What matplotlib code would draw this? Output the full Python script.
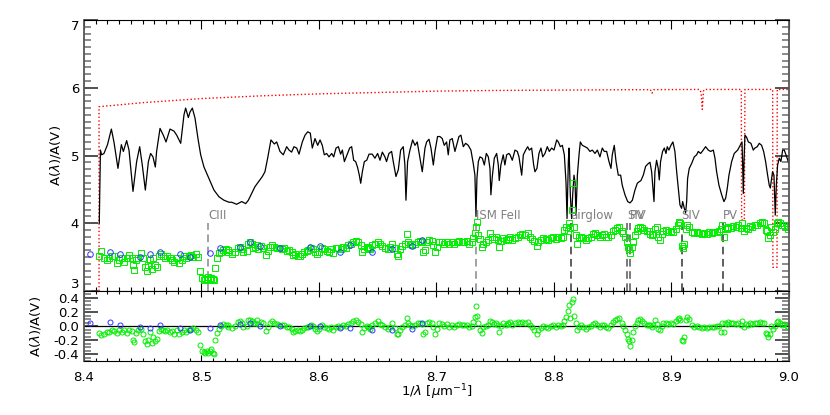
import matplotlib
matplotlib.use("Agg")
import matplotlib.pyplot as plt
from matplotlib.ticker import MultipleLocator, FormatStrFormatter

# observed extinction curve (black)
spec_x = [8.4130, 8.4140, 8.4150, 8.4170, 8.4200, 8.4233, 8.4255, 8.4289, 8.4318,
          8.4335, 8.4363, 8.4383, 8.4417, 8.4448, 8.4474, 8.4496, 8.4522, 8.4548, 8.4567,
          8.4587, 8.4607, 8.4618, 8.4647, 8.4675, 8.4698, 8.4732, 8.4766, 8.4789, 8.4823,
          8.4851, 8.4865, 8.4888, 8.4902, 8.4922, 8.4945, 8.4970, 8.4993, 8.5021, 8.5064,
          8.5106, 8.5149, 8.5191, 8.5234, 8.5257, 8.5299, 8.5342, 8.5376, 8.5399, 8.5427,
          8.5455, 8.5484, 8.5518, 8.5540, 8.5563, 8.5591, 8.5620, 8.5640, 8.5668, 8.5696,
          8.5725, 8.5745, 8.5767, 8.5787, 8.5810, 8.5830, 8.5858, 8.5881, 8.5904, 8.5926,
          8.5943, 8.5966, 8.5989, 8.6009, 8.6028, 8.6045, 8.6065, 8.6085, 8.6108, 8.6125,
          8.6145, 8.6165, 8.6184, 8.6199, 8.6216, 8.6238, 8.6261, 8.6278, 8.6295, 8.6312,
          8.6329, 8.6343, 8.6355, 8.6369, 8.6386, 8.6406, 8.6426, 8.6453, 8.6476, 8.6499,
          8.6519, 8.6539, 8.6561, 8.6575, 8.6595, 8.6618, 8.6632, 8.6655, 8.6675, 8.6695,
          8.6717, 8.6731, 8.6740, 8.6754, 8.6774, 8.6797, 8.6817, 8.6836, 8.6859, 8.6879,
          8.6902, 8.6916, 8.6936, 8.6953, 8.6973, 8.6987, 8.7009, 8.7029, 8.7049, 8.7066,
          8.7086, 8.7100, 8.7114, 8.7134, 8.7157, 8.7171, 8.7191, 8.7208, 8.7228, 8.7248,
          8.7270, 8.7293, 8.7313, 8.7327, 8.7336, 8.7344, 8.7356, 8.7370, 8.7390, 8.7407,
          8.7424, 8.7441, 8.7455, 8.7463, 8.7475, 8.7492, 8.7512, 8.7526, 8.7534, 8.7548,
          8.7568, 8.7582, 8.7597, 8.7616, 8.7626, 8.7645, 8.7668, 8.7688, 8.7702, 8.7725,
          8.7739, 8.7759, 8.7776, 8.7790, 8.7810, 8.7827, 8.7838, 8.7855, 8.7872, 8.7889,
          8.7904, 8.7923, 8.7943, 8.7960, 8.7980, 8.8000, 8.8023, 8.8037, 8.8054, 8.8071,
          8.8088, 8.8102, 8.8111, 8.8122, 8.8128, 8.8139, 8.8150, 8.8159, 8.8170, 8.8179,
          8.8187, 8.8199, 8.8213, 8.8224, 8.8241, 8.8264, 8.8284, 8.8306, 8.8326, 8.8349,
          8.8369, 8.8391, 8.8411, 8.8428, 8.8448, 8.8468, 8.8485, 8.8496, 8.8513, 8.8528,
          8.8547, 8.8567, 8.8581, 8.8604, 8.8627, 8.8647, 8.8667, 8.8689, 8.8709, 8.8723,
          8.8740, 8.8760, 8.8780, 8.8802, 8.8817, 8.8831, 8.8851, 8.8859, 8.8873, 8.8887,
          8.8896, 8.8907, 8.8924, 8.8939, 8.8953, 8.8964, 8.8978, 8.8995, 8.9012, 8.9029,
          8.9044, 8.9058, 8.9072, 8.9086, 8.9095, 8.9109, 8.9120, 8.9129, 8.9137, 8.9151,
          8.9171, 8.9194, 8.9214, 8.9228, 8.9248, 8.9270, 8.9290, 8.9313, 8.9333, 8.9356,
          8.9370, 8.9384, 8.9404, 8.9427, 8.9446, 8.9461, 8.9475, 8.9489, 8.9512, 8.9534,
          8.9563, 8.9585, 8.9600, 8.9605, 8.9611, 8.9617, 8.9625, 8.9639, 8.9654, 8.9676,
          8.9696, 8.9710, 8.9730, 8.9747, 8.9767, 8.9784, 8.9801, 8.9818, 8.9832, 8.9841,
          8.9852, 8.9860, 8.9872, 8.9883, 8.9892, 8.9903, 8.9917, 8.9931, 8.9946, 8.9960,
          8.9980, 9.0000]
spec_y = [4.00, 5.08, 5.01, 5.03, 5.16, 5.39, 5.20, 4.81, 5.16,
          5.06, 5.22, 5.08, 4.47, 4.91, 5.13, 4.86, 4.49, 4.91, 5.03,
          4.98, 4.83, 5.06, 5.40, 5.30, 5.20, 5.39, 5.36, 5.30, 5.18,
          5.60, 5.70, 5.56, 5.64, 5.70, 5.55, 5.25, 5.01, 4.83, 4.66,
          4.49, 4.39, 4.34, 4.31, 4.31, 4.28, 4.32, 4.29, 4.34, 4.44,
          4.54, 4.61, 4.69, 4.76, 4.96, 5.23, 5.17, 5.20, 5.06, 5.01,
          5.13, 5.08, 5.05, 5.13, 5.11, 5.02, 5.20, 5.30, 5.35, 5.33,
          5.11, 5.25, 5.15, 5.23, 5.15, 5.01, 5.03, 4.98, 5.03, 4.98,
          5.11, 5.13, 5.02, 5.08, 4.91, 5.01, 5.11, 5.13, 4.93, 4.91,
          4.82, 4.71, 4.59, 4.76, 4.91, 4.93, 5.02, 5.02, 4.96, 5.03,
          4.93, 5.05, 4.98, 4.91, 5.03, 5.06, 4.91, 4.69, 4.79, 5.08,
          5.13, 4.86, 4.34, 4.91, 5.08, 5.23, 5.15, 5.20, 4.96, 4.76,
          5.11, 5.20, 5.24, 5.11, 4.86, 5.06, 5.28, 5.28, 5.25, 5.15,
          5.20, 5.01, 5.23, 5.25, 5.06, 5.15, 5.28, 5.30, 5.13, 5.18,
          5.15, 5.08, 4.88, 4.71, 4.10, 4.66, 4.91, 4.98, 4.96, 4.86,
          5.03, 4.98, 4.81, 4.42, 4.69, 4.96, 5.03, 4.86, 4.63, 4.86,
          5.01, 4.86, 5.01, 5.03, 5.01, 4.93, 5.08, 5.06, 4.98, 4.71,
          5.01, 5.08, 5.13, 5.08, 5.11, 4.86, 4.76, 4.81, 5.03, 5.11,
          4.98, 5.03, 5.13, 5.06, 5.11, 5.08, 5.23, 5.20, 5.13, 5.15,
          5.01, 4.61, 4.07, 4.91, 5.11, 4.42, 4.07, 4.42, 4.71, 4.61,
          4.12, 4.71, 5.01, 5.20, 5.15, 5.13, 5.11, 5.06, 5.08, 5.03,
          5.08, 4.98, 5.11, 5.06, 5.06, 4.91, 4.81, 5.01, 5.15, 4.91,
          4.71, 4.71, 4.56, 4.42, 4.32, 4.30, 4.34, 4.49, 4.59, 4.61,
          4.63, 4.71, 4.84, 4.88, 4.90, 4.76, 4.32, 4.76, 4.93, 4.81,
          4.64, 4.91, 5.06, 5.11, 5.03, 5.13, 5.08, 5.15, 5.20, 5.06,
          4.76, 4.52, 4.27, 4.22, 4.32, 4.22, 4.15, 4.32, 4.66, 4.81,
          4.88, 4.98, 5.01, 5.06, 5.03, 5.08, 5.13, 5.08, 5.06, 5.08,
          4.96, 4.76, 4.56, 4.42, 4.32, 4.37, 4.52, 4.71, 4.91, 5.03,
          5.08, 5.15, 5.20, 4.91, 4.44, 4.91, 5.30, 5.27, 5.20, 5.18,
          5.08, 5.11, 5.13, 5.18, 5.15, 5.06, 4.91, 4.71, 4.56, 4.52,
          4.66, 4.76, 4.71, 4.12, 4.56, 4.86, 4.96, 4.91, 5.08, 5.08,
          4.98, 4.88]

# red dotted curve
red_x = [8.4128, 8.4128, 8.4500, 8.5000, 8.5500, 8.6000, 8.6500, 8.7000, 8.7500, 8.8000,
         8.8500, 8.8820, 8.8834, 8.8850, 8.9240, 8.9252, 8.9262, 8.9272, 8.9280, 8.9594,
         8.9597, 8.9620, 8.9625, 8.9861, 8.9863, 8.9898, 8.9900, 9.0000]
red_y = [3.00, 5.72, 5.78, 5.84, 5.88, 5.91, 5.93, 5.95, 5.96, 5.965,
         5.97, 5.972, 5.92, 5.972, 5.975, 5.93, 5.68, 5.95, 5.975, 5.975,
         4.05, 4.05, 5.975, 5.975, 3.35, 3.35, 5.975, 5.975]

# green squares (top) and their residuals (bottom)
green_x = [8.4128, 8.4148, 8.4170, 8.4192, 8.4213, 8.4235, 8.4256, 8.4278, 8.4299, 8.4320,
           8.4342, 8.4363, 8.4385, 8.4406, 8.4420, 8.4428, 8.4445, 8.4463, 8.4482, 8.4500,
           8.4518, 8.4533, 8.4548, 8.4562, 8.4576, 8.4590, 8.4605, 8.4618, 8.4635, 8.4652,
           8.4670, 8.4690, 8.4710, 8.4730, 8.4750, 8.4770, 8.4790, 8.4810, 8.4830, 8.4850,
           8.4870, 8.4890, 8.4910, 8.4930, 8.4950, 8.4970, 8.4990, 8.5005, 8.5018, 8.5030,
           8.5043, 8.5056, 8.5069, 8.5082, 8.5095, 8.5108, 8.5118, 8.5135, 8.5150, 8.5168,
           8.5186, 8.5205, 8.5222, 8.5228, 8.5257, 8.5285, 8.5313, 8.5328, 8.5342, 8.5356,
           8.5384, 8.5399, 8.5413, 8.5427, 8.5441, 8.5455, 8.5470, 8.5484, 8.5506, 8.5526,
           8.5546, 8.5563, 8.5583, 8.5597, 8.5620, 8.5640, 8.5660, 8.5682, 8.5705, 8.5725,
           8.5745, 8.5767, 8.5782, 8.5796, 8.5818, 8.5838, 8.5852, 8.5875, 8.5895, 8.5909,
           8.5932, 8.5952, 8.5966, 8.5980, 8.6000, 8.6023, 8.6045, 8.6065, 8.6085, 8.6102,
           8.6122, 8.6142, 8.6165, 8.6187, 8.6207, 8.6227, 8.6250, 8.6272, 8.6292, 8.6312,
           8.6335, 8.6357, 8.6369, 8.6386, 8.6406, 8.6426, 8.6414, 8.6434, 8.6453, 8.6476,
           8.6499, 8.6519, 8.6539, 8.6561, 8.6584, 8.6604, 8.6624, 8.6646, 8.6661, 8.6675,
           8.6689, 8.6709, 8.6731, 8.6751, 8.6754, 8.6774, 8.6794, 8.6817, 8.6839, 8.6859,
           8.6879, 8.6887, 8.6902, 8.6916, 8.6936, 8.6958, 8.6973, 8.6987, 8.7001, 8.7021,
           8.7043, 8.7066, 8.7086, 8.7106, 8.7129, 8.7151, 8.7171, 8.7191, 8.7214, 8.7236,
           8.7256, 8.7276, 8.7299, 8.7313, 8.7327, 8.7336, 8.7347, 8.7356, 8.7370, 8.7384,
           8.7398, 8.7418, 8.7441, 8.7455, 8.7469, 8.7486, 8.7503, 8.7520, 8.7534, 8.7548,
           8.7568, 8.7588, 8.7611, 8.7606, 8.7626, 8.7645, 8.7668, 8.7691, 8.7711, 8.7731,
           8.7753, 8.7776, 8.7796, 8.7816, 8.7833, 8.7853, 8.7867, 8.7889, 8.7909, 8.7929,
           8.7952, 8.7974, 8.7994, 8.8014, 8.8037, 8.8060, 8.8074, 8.8088, 8.8102, 8.8116,
           8.8131, 8.8139, 8.8150, 8.8159, 8.8170, 8.8184, 8.8199, 8.8213, 8.8230, 8.8250,
           8.8270, 8.8292, 8.8315, 8.8335, 8.8349, 8.8369, 8.8391, 8.8406, 8.8426, 8.8443,
           8.8462, 8.8485, 8.8505, 8.8519, 8.8539, 8.8556, 8.8576, 8.8590, 8.8604, 8.8618,
           8.8627, 8.8638, 8.8650, 8.8661, 8.8672, 8.8689, 8.8704, 8.8718, 8.8732, 8.8752,
           8.8769, 8.8789, 8.8809, 8.8817, 8.8831, 8.8845, 8.8859, 8.8873, 8.8887, 8.8902,
           8.8916, 8.8930, 8.8950, 8.8973, 8.8995, 8.9015, 8.9035, 8.9052, 8.9063, 8.9075,
           8.9086, 8.9095, 8.9106, 8.9120, 8.9134, 8.9151, 8.9171, 8.9194, 8.9214, 8.9234,
           8.9256, 8.9279, 8.9299, 8.9319, 8.9341, 8.9361, 8.9384, 8.9404, 8.9421, 8.9432,
           8.9443, 8.9455, 8.9469, 8.9483, 8.9506, 8.9526, 8.9546, 8.9568, 8.9588, 8.9602,
           8.9617, 8.9631, 8.9648, 8.9668, 8.9687, 8.9710, 8.9730, 8.9753, 8.9773, 8.9790,
           8.9804, 8.9815, 8.9824, 8.9835, 8.9847, 8.9866, 8.9880, 8.9895, 8.9909, 8.9923,
           8.9937, 8.9960, 8.9980, 8.9994]
green_y = [3.52, 3.59, 3.48, 3.46, 3.48, 3.51, 3.51, 3.41, 3.46, 3.48,
           3.43, 3.49, 3.53, 3.48, 3.39, 3.31, 3.46, 3.48, 3.56, 3.48,
           3.36, 3.29, 3.38, 3.46, 3.33, 3.48, 3.38, 3.36, 3.51, 3.54,
           3.51, 3.49, 3.51, 3.49, 3.46, 3.43, 3.48, 3.41, 3.46, 3.51,
           3.48, 3.52, 3.53, 3.50, 3.54, 3.50, 3.29, 3.19, 3.16, 3.18,
           3.17, 3.20, 3.16, 3.19, 3.17, 3.16, 3.34, 3.48, 3.56, 3.58,
           3.60, 3.62, 3.60, 3.58, 3.54, 3.58, 3.64, 3.65, 3.62, 3.57,
           3.59, 3.70, 3.72, 3.69, 3.63, 3.65, 3.68, 3.62, 3.67, 3.64,
           3.53, 3.59, 3.65, 3.68, 3.65, 3.64, 3.63, 3.62, 3.63, 3.59,
           3.60, 3.57, 3.53, 3.54, 3.52, 3.51, 3.54, 3.58, 3.59, 3.60,
           3.63, 3.62, 3.58, 3.54, 3.58, 3.64, 3.62, 3.59, 3.58, 3.62,
           3.56, 3.63, 3.64, 3.62, 3.65, 3.64, 3.68, 3.70, 3.73, 3.74,
           3.72, 3.68, 3.57, 3.62, 3.65, 3.63, 3.65, 3.62, 3.68, 3.70,
           3.73, 3.69, 3.67, 3.64, 3.62, 3.65, 3.70, 3.63, 3.54, 3.51,
           3.62, 3.67, 3.69, 3.84, 3.73, 3.70, 3.68, 3.70, 3.73, 3.74,
           3.72, 3.58, 3.60, 3.73, 3.75, 3.74, 3.68, 3.58, 3.65, 3.73,
           3.72, 3.70, 3.73, 3.69, 3.72, 3.70, 3.73, 3.74, 3.72, 3.73,
           3.74, 3.70, 3.72, 3.78, 3.85, 3.95, 4.02, 3.83, 3.77, 3.65,
           3.70, 3.73, 3.75, 3.85, 3.80, 3.77, 3.79, 3.75, 3.65, 3.74,
           3.78, 3.75, 3.77, 3.77, 3.79, 3.75, 3.78, 3.80, 3.83, 3.84,
           3.82, 3.85, 3.80, 3.77, 3.74, 3.67, 3.73, 3.75, 3.78, 3.77,
           3.75, 3.78, 3.79, 3.77, 3.79, 3.78, 3.79, 3.90, 3.95, 3.89,
           4.00, 3.93, 4.20, 4.60, 3.94, 3.83, 3.70, 3.80, 3.80, 3.78,
           3.75, 3.78, 3.80, 3.84, 3.85, 3.83, 3.79, 3.83, 3.84, 3.80,
           3.79, 3.83, 3.88, 3.90, 3.93, 3.94, 3.89, 3.85, 3.80, 3.73,
           3.65, 3.62, 3.56, 3.65, 3.73, 3.83, 3.88, 3.93, 3.95, 3.93,
           3.90, 3.88, 3.88, 3.84, 3.82, 3.84, 3.92, 3.95, 3.80, 3.75,
           3.84, 3.885, 3.90, 3.875, 3.885, 3.875, 3.915, 3.97, 4.02, 4.00,
           3.67, 3.63, 3.70, 3.92, 3.97, 3.95, 3.875, 3.85, 3.866, 3.85,
           3.84, 3.85, 3.84, 3.866, 3.85, 3.866, 3.875, 3.885, 3.92, 3.97,
           3.79, 3.93, 3.915, 3.95, 3.93, 3.96, 3.95, 3.97, 3.93, 4.00,
           3.885, 3.93, 3.92, 3.96, 3.95, 3.98, 3.97, 4.00, 4.02, 4.01,
           3.90, 3.885, 3.78, 3.83, 3.95, 3.875, 3.92, 4.01, 4.02, 4.00,
           3.97, 3.98, 3.95, 3.92]
green_res = [-0.10, -0.13, -0.11, -0.08, -0.09, -0.06, -0.07, -0.10, -0.06, -0.08,
             -0.06, -0.10, -0.05, -0.07, -0.20, -0.23, -0.10, -0.05, -0.04, -0.12,
             -0.22, -0.25, -0.20, -0.08, -0.24, -0.16, -0.22, -0.18, -0.07, -0.04,
             -0.06, -0.07, -0.05, -0.08, -0.07, -0.11, -0.05, -0.12, -0.09, -0.05,
             -0.08, -0.06, -0.04, -0.03, -0.05, -0.08, -0.27, -0.35, -0.37, -0.38,
             -0.36, -0.38, -0.35, -0.33, -0.38, -0.40, -0.20, -0.10, -0.04, 0.00,
             0.03, 0.01, -0.02, 0.01, -0.03, 0.00, 0.06, 0.07, 0.04, -0.02,
             0.00, 0.08, 0.09, 0.07, 0.04, 0.05, 0.08, 0.03, 0.06, 0.04,
             -0.07, -0.02, 0.04, 0.07, 0.04, 0.03, 0.02, 0.01, 0.01, -0.02,
             -0.01, -0.04, -0.08, -0.07, -0.06, -0.07, -0.05, -0.03, -0.02, -0.01,
             0.01, 0.00, -0.04, -0.07, -0.04, 0.01, -0.01, -0.03, -0.04, -0.01,
             -0.06, -0.01, 0.00, -0.02, 0.01, 0.00, 0.03, 0.05, 0.07, 0.08,
             0.06, 0.03, -0.08, -0.03, 0.00, -0.02, -0.01, -0.04, 0.02, 0.04,
             0.07, 0.03, 0.01, -0.02, -0.04, -0.01, 0.04, -0.03, -0.12, -0.12,
             -0.05, -0.01, 0.01, 0.12, 0.05, 0.02, 0.00, 0.01, 0.04, 0.05,
             0.03, -0.11, -0.09, 0.04, 0.06, 0.05, -0.01, -0.11, -0.04, 0.04,
             0.03, 0.00, 0.03, -0.01, 0.01, -0.01, 0.02, 0.03, 0.01, 0.01,
             0.02, -0.02, 0.00, 0.06, 0.13, 0.28, 0.14, 0.05, -0.06, -0.10,
             -0.02, 0.00, 0.02, 0.07, 0.06, 0.03, 0.05, 0.01, -0.09, 0.00,
             0.04, 0.01, 0.03, 0.04, 0.06, 0.02, 0.04, 0.06, 0.05, 0.06,
             0.04, 0.06, 0.01, -0.02, -0.06, -0.12, -0.06, -0.03, 0.00, -0.01,
             -0.03, 0.00, 0.01, -0.01, 0.01, 0.00, 0.01, 0.07, 0.13, 0.21,
             0.30, 0.12, 0.34, 0.38, 0.15, 0.05, -0.06, -0.02, 0.01, -0.01,
             -0.04, -0.01, 0.00, 0.03, 0.04, 0.02, -0.02, 0.01, 0.02, -0.02,
             -0.03, 0.01, 0.06, 0.08, 0.10, 0.11, 0.05, 0.00, -0.05, -0.12,
             -0.18, -0.22, -0.28, -0.20, -0.08, 0.00, 0.05, 0.09, 0.10, 0.07,
             0.04, 0.02, 0.02, 0.01, -0.01, 0.01, 0.09, 0.03, -0.04, -0.05,
             0.00, 0.04, 0.05, 0.03, 0.04, 0.03, 0.07, 0.10, 0.12, 0.08,
             -0.20, -0.22, -0.15, 0.09, 0.13, 0.10, 0.02, -0.01, 0.00, -0.02,
             -0.03, -0.02, -0.03, -0.01, -0.02, -0.01, 0.00, 0.00, -0.08, 0.04,
             -0.09, 0.05, 0.03, 0.06, 0.04, 0.04, 0.03, 0.05, 0.01, 0.07,
             -0.01, 0.03, 0.02, 0.04, 0.03, 0.05, 0.04, 0.06, 0.05, 0.04,
             -0.10, -0.12, -0.16, -0.12, 0.00, -0.04, 0.00, 0.06, 0.07, 0.05,
             0.02, 0.03, 0.00, -0.02]

# blue circles (top) and their residuals (bottom)
blue_x = [8.4047, 8.4221, 8.4306, 8.4477, 8.4562, 8.4647, 8.4817, 8.4902, 8.5072, 8.5157,
          8.5328, 8.5413, 8.5498, 8.5668, 8.5923, 8.6009, 8.6179, 8.6264, 8.6451, 8.6621,
          8.6791, 8.6877]
blue_y = [3.55, 3.58, 3.55, 3.50, 3.54, 3.57, 3.54, 3.50, 3.56, 3.63,
          3.65, 3.72, 3.66, 3.64, 3.65, 3.67, 3.57, 3.68, 3.58, 3.62,
          3.66, 3.75]
blue_res = [0.04, 0.06, 0.02, -0.02, -0.025, 0.01, -0.03, -0.06, -0.03, 0.02,
            0.03, 0.05, 0.00, 0.00, 0.00, 0.00, -0.03, -0.03, -0.06, -0.05,
            -0.04, 0.04]

# marked features
feat_x = [8.5055, 8.7336, 8.8142, 8.8625, 8.8645, 8.9087, 8.9441]
feat_lbl = ["CIII", "ISM FeII", "airglow", "SIV", "PV", "SIV", "PV"]
feat_col = ["#888888", "#888888", "#333333", "#555555", "#555555", "#333333", "#333333"]

fig = plt.figure(figsize=(8.3, 4.15), dpi=100)
ax1 = fig.add_axes([0.1012, 0.2988, 0.8494, 0.6530])
ax2 = fig.add_axes([0.1012, 0.1301, 0.8494, 0.1687], sharex=ax1)

ax1.plot(red_x, red_y, color="red", ls=":", lw=1.0)
ax1.plot(spec_x, spec_y, color="black", lw=0.9)
for fx, lbl, col in zip(feat_x, feat_lbl, feat_col):
    ax1.plot([fx, fx], [3.0, 4.0], color=col, lw=1.1, dashes=(5, 3))
    ax1.text(fx, 4.02, lbl, color="#808080", fontsize=8.5, ha="left", va="bottom")
ax1.plot(green_x, green_y, ls="none", marker="s", ms=4, mfc="none", mec="#00ee00", mew=0.7)
ax1.plot(blue_x, blue_y, ls="none", marker="o", ms=4, mfc="none", mec="#3333ff", mew=0.7)

ax2.axhline(0.0, color="black", lw=0.9)
ax2.plot(green_x, green_res, ls="none", marker="o", ms=3.6, mfc="none", mec="#00ee00", mew=0.7)
ax2.plot(blue_x, blue_res, ls="none", marker="o", ms=3.6, mfc="none", mec="#3333ff", mew=0.7)

ax1.set_xlim(8.4, 9.0)
ax1.set_ylim(3.0, 7.0)
ax2.set_ylim(-0.5, 0.5)

ax1.xaxis.set_major_locator(MultipleLocator(0.1))
ax1.xaxis.set_minor_locator(MultipleLocator(0.01))
ax1.set_yticks([3, 4, 5, 6, 7])
ax1.yaxis.set_minor_locator(MultipleLocator(0.1))
ax2.set_yticks([-0.4, -0.2, 0.0, 0.2, 0.4])
ax2.yaxis.set_minor_locator(MultipleLocator(0.05))
ax2.yaxis.set_major_formatter(FormatStrFormatter("%.1f"))
ax2.xaxis.set_major_formatter(FormatStrFormatter("%.1f"))

for ax, xl, xs in ((ax1, 6.5, 3.0), (ax2, 4.0, 2.0)):
    ax.tick_params(axis="x", which="major", direction="in", top=True, bottom=True, length=xl, width=0.8)
    ax.tick_params(axis="x", which="minor", direction="in", top=True, bottom=True, length=xs, width=0.8)
    ax.tick_params(axis="y", which="major", direction="in", left=True, right=True, length=10, width=1.2, color="#333333")
    ax.tick_params(axis="y", which="minor", direction="in", left=True, right=True, length=5, width=1.2, color="#777777")
    ax.tick_params(labelsize=9.5)
    for s in ("left", "right"):
        ax.spines[s].set_color("#555555")
        ax.spines[s].set_linewidth(1.3)

ax1.tick_params(axis="x", labelbottom=False)
ax2.tick_params(axis="x", pad=7)

# keep the end labels of the top panel inside its own height
yt = ax1.yaxis.get_major_ticks()
yt[0].label1.set_verticalalignment("bottom")
yt[-1].label1.set_verticalalignment("top")

ax1.set_ylabel(r"A($\lambda$)/A(V)", fontsize=9.5)
ax2.set_ylabel(r"A($\lambda$)/A(V)", fontsize=9.5)
ax1.yaxis.set_label_coords(-0.030, 0.5)
ax2.yaxis.set_label_coords(-0.058, 0.5)
ax2.set_xlabel(r"1/$\lambda$ [$\mu$m$^{-1}$]", fontsize=9.5, labelpad=-1)

fig.savefig("out.png", dpi=100)
